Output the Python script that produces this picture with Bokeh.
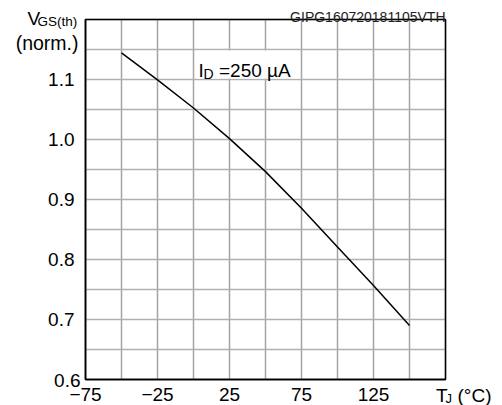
from bokeh.plotting import figure
from bokeh.models import FixedTicker, Label, BoxAnnotation, PrintfTickFormatter, Range1d
from bokeh.embed import file_html
from bokeh.resources import INLINE

# ---- data ----
temps = [-50, -25, 0, 25, 50, 75, 100, 125, 150]
vgs_norm = [1.1445, 1.0995, 1.0525, 1.0015, 0.9465, 0.8855, 0.821, 0.7565, 0.690]
x_tick_labels = [-75, -25, 25, 75, 125]
y_tick_labels = [0.6, 0.7, 0.8, 0.9, 1.0, 1.1]
x_grid = [-75, -50, -25, 0, 25, 50, 75, 100, 125, 150, 175]
y_grid = [0.6, 0.65, 0.7, 0.75, 0.8, 0.85, 0.9, 0.95, 1.0, 1.05, 1.1, 1.15, 1.2]

FONT = "Liberation Sans"
X0, X1, Y0, Y1 = -75, 175, 0.6, 1.2
W, H = 502, 405
FL, FT, FW, FH = 85, 19, 360, 360  # plot box in page pixels


def dx(px):
    return (px - FL) / FW * (X1 - X0) + X0


def dy(py):
    return Y1 - (py - FT) / FH * (Y1 - Y0)


p = figure(width=W, height=H,
           x_range=Range1d(dx(0), dx(W)), y_range=Range1d(dy(H), dy(0)),
           output_backend="svg", toolbar_location=None,
           min_border=0)
p.background_fill_color = "white"
p.border_fill_color = "white"
p.outline_line_color = None
p.grid.visible = False

xa = p.xaxis[0]
ya = p.yaxis[0]
xa.fixed_location = Y0
ya.fixed_location = X0
xa.bounds = (X0, X1)
ya.bounds = (Y0, Y1)
for ax in (xa, ya):
    ax.axis_line_color = "black"
    ax.axis_line_width = 1.5
    ax.major_tick_line_color = None
    ax.minor_tick_line_color = None
    ax.major_label_text_font = FONT
    ax.major_label_text_font_size = "19px"
    ax.major_label_text_color = "black"

xa.ticker = FixedTicker(ticks=x_tick_labels)
xa.major_label_standoff = 2
ya.ticker = FixedTicker(ticks=y_tick_labels)
ya.formatter = PrintfTickFormatter(format="%.1f")
ya.major_label_standoff = 5
ya.major_label_overrides = {0.6: ""}

# grid lines within the plot box
vx = [[g, g] for g in x_grid]
vy = [[Y0, Y1] for g in x_grid]
hx = [[X0, X1] for g in y_grid]
hy = [[g, g] for g in y_grid]
p.multi_line(xs=vx, ys=vy, line_color="#a4a4a4", line_width=1.5, line_alpha=1.0)
p.multi_line(xs=hx, ys=hy, line_color="#b0b0b0", line_width=1.5, line_alpha=1.0)

# plot box border (top and right; left/bottom are the axis lines)
p.quad(left=[X0], right=[X1], bottom=[Y0], top=[Y1],
       fill_color=None, line_color="black", line_width=1.5)

p.line(temps, vgs_norm, line_color="black", line_width=1.5, line_join="round")

# white box behind the current annotation
p.add_layout(BoxAnnotation(left=dx(196), right=dx(299), bottom=1.1015, top=1.1485,
                           fill_color="white", fill_alpha=1.0, line_color=None))


def lab(text, px, py, size, align="left", color="black"):
    p.add_layout(Label(x=dx(px), y=dy(py), text=text, text_font=FONT,
                       text_font_size=size, text_color=color,
                       text_align=align, text_baseline="alphabetic"))


# annotation I_D = 250 µA
lab("I", 198, 70, "19px")
lab("D", 203, 73.5, "14px")
lab("=250 µA", 218.5, 70, "19px")

# 0.6 tick label (sits higher, bottom aligned with the box)
lab("0.6", 80, 380, "19px", align="right")

# y axis title
lab("V", 27, 17.5, "19px")
lab("GS(th)", 37, 20.5, "13.5px")
lab("(norm.)", 78, 42.5, "19.5px", align="right")

# x axis title
lab("T", 435.5, 394.5, "19px")
lab("J", 445, 398, "13px")
lab("(°C)", 457, 394.5, "19px")

# code
lab("GIPG160720181105VTH", 445, 16, "14px", align="right", color="#222222")

open("out.html", "w").write(file_html(p, INLINE))
